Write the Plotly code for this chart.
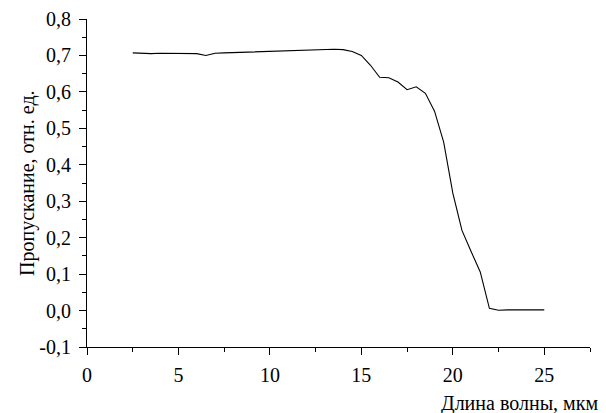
import plotly.graph_objects as go

wavelength = [2.5, 3.0, 3.5, 4.0, 4.5, 5.0, 5.5, 6.0, 6.5, 7.0, 7.5, 8.0, 8.5, 9.0, 9.5,
              10.0, 10.5, 11.0, 11.5, 12.0, 12.5, 13.0, 13.5, 14.0, 14.5, 15.0, 15.5,
              16.0, 16.5, 17.0, 17.5, 18.0, 18.5, 19.0, 19.5, 20.0, 20.5, 21.0, 21.5,
              22.0, 22.5, 23.0, 23.5, 24.0, 24.5, 25.0]
transmission = [0.707, 0.705, 0.705, 0.706, 0.706, 0.706, 0.706, 0.705, 0.700, 0.706,
                0.707, 0.708, 0.709, 0.710, 0.711, 0.712, 0.713, 0.714, 0.715, 0.715,
                0.716, 0.717, 0.717, 0.716, 0.711, 0.700, 0.673, 0.640, 0.639, 0.627,
                0.606, 0.614, 0.596, 0.547, 0.462, 0.322, 0.220, 0.162, 0.106, 0.006,
                0.001, 0.002, 0.002, 0.002, 0.002, 0.002]

y_tick_values = [-0.1, 0.0, 0.1, 0.2, 0.3, 0.4, 0.5, 0.6, 0.7, 0.8]
y_tick_labels = ["-0,1", "0,0", "0,1", "0,2", "0,3", "0,4", "0,5", "0,6", "0,7", "0,8"]

x_title = "Длина волны, мкм"
y_title = "Пропускание, отн. ед."

font = "Liberation Serif, Times New Roman, serif"
tick_size = 20
title_size = 20

fig = go.Figure()
fig.add_trace(go.Scatter(x=wavelength, y=transmission, mode="lines",
                         line=dict(color="#000000", width=1.1), showlegend=False))

fig.update_layout(
    width=606, height=413,
    margin=dict(l=79, r=24, t=11, b=74),
    paper_bgcolor="white", plot_bgcolor="white",
    separators=", ",
    font=dict(family=font, size=tick_size, color="black"),
    xaxis=dict(range=[0, 27.5], tick0=0, dtick=5, showgrid=False, zeroline=False,
               automargin=False,
               showline=True, linecolor="black", linewidth=1.2,
               ticks="outside", ticklen=7, tickwidth=1.2, tickcolor="black",
               ticklabelstandoff=3,
               minor=dict(dtick=2.5, tick0=0, ticks="outside", ticklen=4,
                          tickwidth=1.2, tickcolor="black", showgrid=False),
               tickfont=dict(family=font, size=tick_size, color="black")),
    yaxis=dict(range=[-0.1, 0.8], tickmode="array", tickvals=y_tick_values,
               ticktext=y_tick_labels, automargin=False,
               showgrid=False, zeroline=False,
               showline=True, linecolor="black", linewidth=1.2,
               ticks="outside", ticklen=7, tickwidth=1.2, tickcolor="black",
               ticklabelstandoff=4,
               minor=dict(dtick=0.05, tick0=0, ticks="outside", ticklen=4,
                          tickwidth=1.2, tickcolor="black", showgrid=False),
               tickfont=dict(family=font, size=tick_size, color="black")),
    annotations=[
        dict(text=x_title, xref="paper", yref="paper", x=1, y=0,
             xanchor="right", yanchor="top", xshift=10, yshift=-43, showarrow=False,
             font=dict(family=font, size=title_size, color="black")),
        dict(text=y_title, xref="paper", yref="paper", x=0, y=0.5,
             xanchor="center", yanchor="middle", xshift=-60, textangle=-90,
             showarrow=False, font=dict(family=font, size=title_size, color="black")),
    ],
)

fig.write_html("out.html")
